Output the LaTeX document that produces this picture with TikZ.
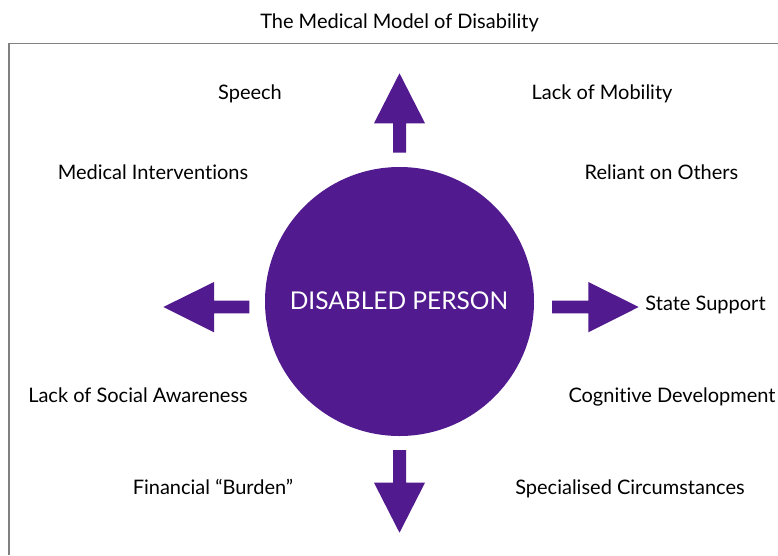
\documentclass[tikz,border=0pt]{standalone}
\usepackage{fontspec}
\setmainfont{Lato}[Ligatures=NoCommon]
\definecolor{disabpurple}{RGB}{81,26,143}
\definecolor{framegray}{RGB}{128,128,128}

\begin{document}
\begin{tikzpicture}[x=1pt, y=-1pt,
    lbl/.style={font=\fontsize{20}{24}\selectfont, anchor=base, inner sep=0pt},
    blockarrow/.style={fill=disabpurple, draw=none}]
    \useasboundingbox (0,0) rectangle (778,555);
    \draw [framegray, line width=1.2pt] (9,555) -- (9,43.5) -- (778,43.5);
    \node [lbl] (title) at (399.5,28) {The Medical Model of Disability};
    % the person in the middle
    \node [circle, fill=disabpurple, minimum size=269pt, inner sep=0pt] (person) at (399.5,301.5) {};
    \node [lbl, text=white, font=\fontsize{24.5}{28}\selectfont] (personlbl) at (399,309.5) {DISABLED PERSON};
    % block arrows
    \fill [blockarrow] (393,152.7) -- (393,123.3) -- (374,123.3) -- (399.5,73.3) -- (425,123.3) -- (406,123.3) -- (406,152.7) -- cycle;
    \fill [blockarrow] (393,450) -- (393,482.7) -- (374,482.7) -- (399.5,532.7) -- (425,482.7) -- (406,482.7) -- (406,450) -- cycle;
    \fill [blockarrow] (249.3,300.7) -- (214,300.7) -- (214,282) -- (163.3,307) -- (214,332.3) -- (214,313.3) -- (249.3,313.3) -- cycle;
    \fill [blockarrow] (552,300.7) -- (588.3,300.7) -- (588.3,282) -- (638.7,307) -- (588.3,332.3) -- (588.3,313.3) -- (552,313.3) -- cycle;
    % labels round the person
    \node [lbl] (speech) at (250,99.5) {Speech};
    \node [lbl] (mobility) at (602,99.5) {Lack of Mobility};
    \node [lbl] (medical) at (153,179.5) {Medical Interventions};
    \node [lbl] (reliant) at (661.5,179.5) {Reliant on Others};
    \node [lbl] (state) at (705.5,310) {State Support};
    \node [lbl] (social) at (138,402.5) {Lack of Social Awareness};
    \node [lbl] (cognitive) at (672,402.5) {Cognitive Development};
    \node [lbl] (burden) at (213,494) {Financial “Burden”};
    \node [lbl] (special) at (630,494) {Specialised Circumstances};
\end{tikzpicture}
\end{document}
